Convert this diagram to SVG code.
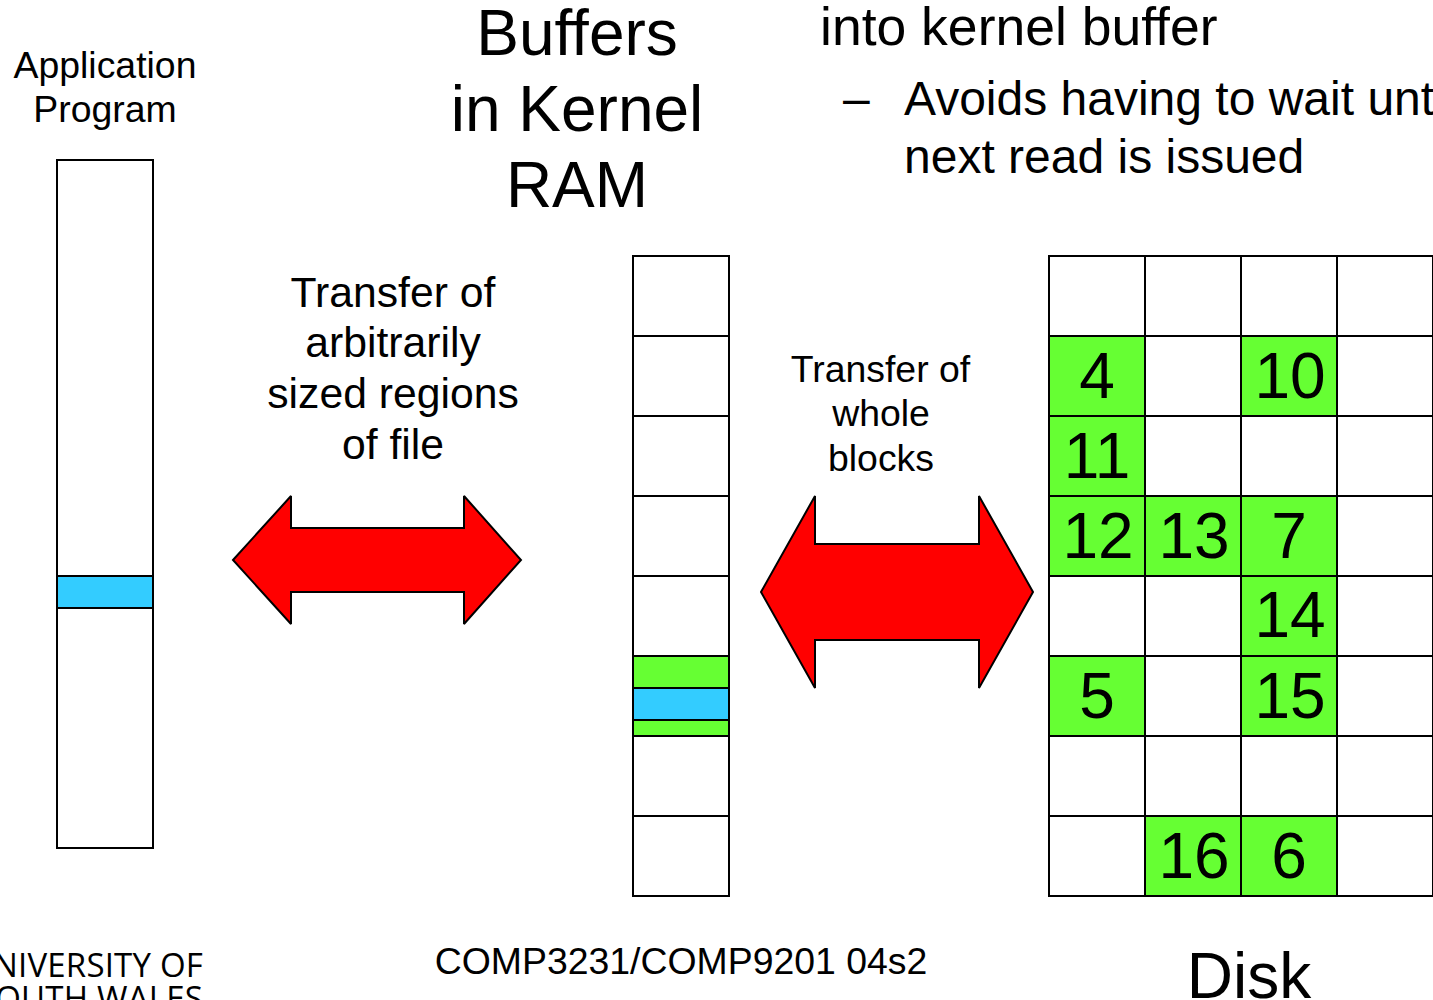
<svg xmlns="http://www.w3.org/2000/svg" width="1433" height="1000" viewBox="0 0 1433 1000">
<style>
text{font-family:"Liberation Sans",Arial,sans-serif;fill:#000;text-anchor:middle}
.s{text-anchor:start}
.c{fill:#fff;stroke:#000;stroke-width:2}
.g{fill:#66ff33;stroke:#000;stroke-width:2}
.b{fill:#33ccff;stroke:#000;stroke-width:2}
.a{fill:#ff0000;stroke:#000;stroke-width:2;stroke-miterlimit:2}
.t37{font-size:37.4px}.t42{font-size:42.7px}.t64{font-size:64px}.n{font-size:64px}
.t53{font-size:53.5px}.t48{font-size:48px}
.logo{font-family:"Open Sans","Liberation Sans",sans-serif;font-weight:400;font-size:33px;letter-spacing:.2px;text-anchor:end}
</style>
<rect width="1433" height="1000" fill="#fff"/>
<g id="title-buffers">
<text class="t64" x="577" y="55">Buffers</text>
<text class="t64" x="577" y="131">in Kernel</text>
<text class="t64" x="577" y="207">RAM</text>
</g>
<g id="bullets">
<text class="t53 s" x="820" y="45">into kernel buffer</text>
<text class="t48 s" x="843" y="115">–</text>
<text class="t48 s" x="904" y="115">Avoids having to wait unt</text>
<text class="t48 s" x="904" y="173">next read is issued</text>
</g>
<g id="application-program">
<text class="t37" x="105" y="78">Application</text>
<text class="t37" x="105" y="122">Program</text>
<rect class="c" x="57" y="160" width="96" height="688"/>
<rect class="b" x="57" y="576" width="96" height="32"/>
</g>
<g id="kernel-buffers">
<rect class="c" x="633" y="256" width="96" height="80"/>
<rect class="c" x="633" y="336" width="96" height="80"/>
<rect class="c" x="633" y="416" width="96" height="80"/>
<rect class="c" x="633" y="496" width="96" height="80"/>
<rect class="c" x="633" y="576" width="96" height="80"/>
<rect class="g" x="633" y="656" width="96" height="80"/>
<rect class="b" x="633" y="688" width="96" height="32"/>
<rect class="c" x="633" y="736" width="96" height="80"/>
<rect class="c" x="633" y="816" width="96" height="80"/>
</g>
<g id="disk">
<rect class="c" x="1049" y="256" width="96" height="80"/><rect class="c" x="1145" y="256" width="96" height="80"/><rect class="c" x="1241" y="256" width="96" height="80"/><rect class="c" x="1337" y="256" width="96" height="80"/>
<rect class="g" x="1049" y="336" width="96" height="80"/><rect class="c" x="1145" y="336" width="96" height="80"/><rect class="g" x="1241" y="336" width="96" height="80"/><rect class="c" x="1337" y="336" width="96" height="80"/>
<rect class="g" x="1049" y="416" width="96" height="80"/><rect class="c" x="1145" y="416" width="96" height="80"/><rect class="c" x="1241" y="416" width="96" height="80"/><rect class="c" x="1337" y="416" width="96" height="80"/>
<rect class="g" x="1049" y="496" width="96" height="80"/><rect class="g" x="1145" y="496" width="96" height="80"/><rect class="g" x="1241" y="496" width="96" height="80"/><rect class="c" x="1337" y="496" width="96" height="80"/>
<rect class="c" x="1049" y="576" width="96" height="80"/><rect class="c" x="1145" y="576" width="96" height="80"/><rect class="g" x="1241" y="576" width="96" height="80"/><rect class="c" x="1337" y="576" width="96" height="80"/>
<rect class="g" x="1049" y="656" width="96" height="80"/><rect class="c" x="1145" y="656" width="96" height="80"/><rect class="g" x="1241" y="656" width="96" height="80"/><rect class="c" x="1337" y="656" width="96" height="80"/>
<rect class="c" x="1049" y="736" width="96" height="80"/><rect class="c" x="1145" y="736" width="96" height="80"/><rect class="c" x="1241" y="736" width="96" height="80"/><rect class="c" x="1337" y="736" width="96" height="80"/>
<rect class="c" x="1049" y="816" width="96" height="80"/><rect class="g" x="1145" y="816" width="96" height="80"/><rect class="g" x="1241" y="816" width="96" height="80"/><rect class="c" x="1337" y="816" width="96" height="80"/>
<text class="n" x="1097" y="398">4</text>
<text class="n" x="1290" y="398">10</text>
<text class="n" x="1097" y="478">11</text>
<text class="n" x="1098" y="558">12</text>
<text class="n" x="1194" y="558">13</text>
<text class="n" x="1289" y="558">7</text>
<text class="n" x="1290" y="637">14</text>
<text class="n" x="1097" y="718">5</text>
<text class="n" x="1290" y="718">15</text>
<text class="n" x="1194" y="878">16</text>
<text class="n" x="1289" y="878">6</text>
<text class="t64" x="1249" y="998">Disk</text>
</g>
<g id="connectors">
<polygon class="a" points="233,560 291,496 291,528 464,528 464,496 521,560 464,624 464,592 291,592 291,624"/>
<polygon class="a" points="761,592 815,496 815,544 979,544 979,496 1033,592 979,688 979,640 815,640 815,688"/>
</g>
<g id="label-arbitrary">
<text class="t42" x="393" y="307">Transfer of</text>
<text class="t42" x="393" y="357">arbitrarily</text>
<text class="t42" x="393" y="408">sized regions</text>
<text class="t42" x="393" y="459">of file</text>
</g>
<g id="label-whole">
<text class="t37" x="880.5" y="382">Transfer of</text>
<text class="t37" x="881" y="426">whole</text>
<text class="t37" x="881" y="471">blocks</text>
</g>
<g id="footer">
<text class="t37" x="681" y="974">COMP3231/COMP9201 04s2</text>
<text class="logo" x="203" y="977">UNIVERSITY OF</text>
<text class="logo" x="203" y="1010">SOUTH WALES</text>
</g>
</svg>
